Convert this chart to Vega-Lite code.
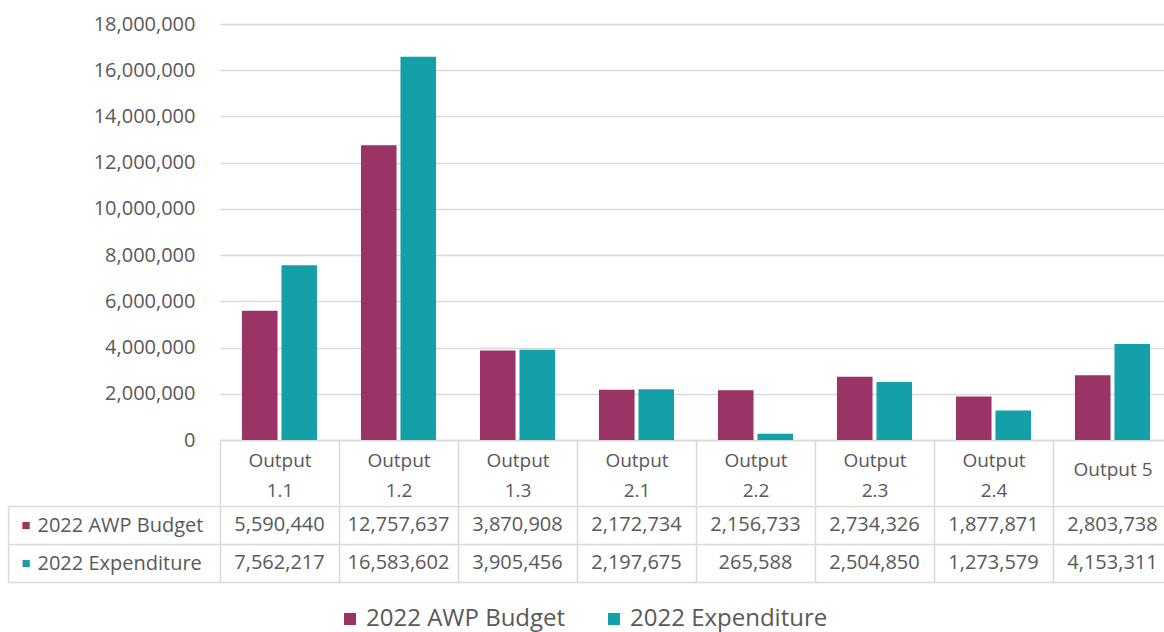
{
  "$schema": "https://vega.github.io/schema/vega-lite/v6.json",
  "background": "white",
  "padding": {"top": 14, "left": 7, "right": 0, "bottom": 4},
  "spacing": -10,
  "data": {
    "values": [
      {"output": "Output 1.1", "series": "2022 AWP Budget", "value": 5590440},
      {"output": "Output 1.1", "series": "2022 Expenditure", "value": 7562217},
      {"output": "Output 1.2", "series": "2022 AWP Budget", "value": 12757637},
      {"output": "Output 1.2", "series": "2022 Expenditure", "value": 16583602},
      {"output": "Output 1.3", "series": "2022 AWP Budget", "value": 3870908},
      {"output": "Output 1.3", "series": "2022 Expenditure", "value": 3905456},
      {"output": "Output 2.1", "series": "2022 AWP Budget", "value": 2172734},
      {"output": "Output 2.1", "series": "2022 Expenditure", "value": 2197675},
      {"output": "Output 2.2", "series": "2022 AWP Budget", "value": 2156733},
      {"output": "Output 2.2", "series": "2022 Expenditure", "value": 265588},
      {"output": "Output 2.3", "series": "2022 AWP Budget", "value": 2734326},
      {"output": "Output 2.3", "series": "2022 Expenditure", "value": 2504850},
      {"output": "Output 2.4", "series": "2022 AWP Budget", "value": 1877871},
      {"output": "Output 2.4", "series": "2022 Expenditure", "value": 1273579},
      {"output": "Output 5", "series": "2022 AWP Budget", "value": 2803738},
      {"output": "Output 5", "series": "2022 Expenditure", "value": 4153311}
    ]
  },
  "config": {
    "view": {"stroke": null},
    "font": "Open Sans",
    "axis": {
      "labelFont": "Open Sans",
      "labelColor": "#595959",
      "domainColor": "#d9d9d9",
      "gridColor": "#d9d9d9",
      "tickColor": "#d9d9d9"
    }
  },
  "vconcat": [
    {
      "width": 952,
      "height": 416,
      "mark": {"type": "bar"},
      "encoding": {
        "x": {
          "field": "output",
          "type": "nominal",
          "sort": null,
          "scale": {"paddingInner": 0, "paddingOuter": 0},
          "axis": {
            "title": null,
            "labelAngle": 0,
            "labelOverlap": false,
            "labelFontSize": 19,
            "labelBaseline": {
              "condition": {"test": "test(/\\d\\.\\d/, datum.label)", "value": "middle"},
              "value": "top"
            },
            "labelLineHeight": 30,
            "labelPadding": -45,
            "labelExpr": "test(/\\d\\.\\d/, datum.label) ? split(datum.label, ' ') : datum.label",
            "tickBand": "extent",
            "tickSize": 65,
            "tickWidth": 1.5,
            "domainWidth": 1.5
          }
        },
        "xOffset": {
          "field": "series",
          "type": "nominal",
          "sort": null,
          "scale": {"paddingInner": 0.1, "paddingOuter": 0.556}
        },
        "y": {
          "field": "value",
          "type": "quantitative",
          "scale": {"domain": [0, 18000000], "nice": false},
          "axis": {
            "title": null,
            "values": [0, 2000000, 4000000, 6000000, 8000000, 10000000, 12000000, 14000000, 16000000, 18000000],
            "format": ",d",
            "domain": false,
            "ticks": false,
            "labelPadding": 25,
            "labelFontSize": 20,
            "gridWidth": 1.5
          }
        },
        "color": {
          "field": "series",
          "type": "nominal",
          "sort": null,
          "scale": {"domain": ["2022 AWP Budget", "2022 Expenditure"], "range": ["#9a3366", "#13a0a8"]},
          "legend": {
            "orient": "none",
            "direction": "horizontal",
            "legendX": 118,
            "legendY": 583,
            "title": null,
            "symbolType": "square",
            "symbolSize": 144,
            "symbolStrokeWidth": 0,
            "labelFontSize": 24,
            "labelLimit": 0,
            "labelColor": "#595959",
            "labelOffset": 4,
            "columnPadding": 36
          }
        }
      }
    },
    {
      "width": 952,
      "height": 76,
      "layer": [
        {
          "mark": {"type": "rect", "opacity": 0},
          "encoding": {
            "x": {
              "field": "output",
              "type": "nominal",
              "sort": null,
              "scale": {"paddingInner": 0, "paddingOuter": 0},
              "axis": {
                "title": null,
                "labels": false,
                "ticks": false,
                "domain": false,
                "grid": true,
                "tickBand": "extent",
                "gridWidth": 1.5
              }
            },
            "y": {
              "field": "series",
              "type": "nominal",
              "sort": null,
              "scale": {"domain": ["2022 AWP Budget", "2022 Expenditure"], "paddingInner": 0, "paddingOuter": 0},
              "axis": {
                "title": null,
                "orient": "left",
                "grid": true,
                "gridWidth": 1.5,
                "tickBand": "extent",
                "ticks": true,
                "tickSize": 212,
                "tickWidth": 1.5,
                "domain": false,
                "labelAlign": "left",
                "labelPadding": -29,
                "labelFontSize": 20
              }
            }
          }
        },
        {
          "mark": {"type": "text", "fontSize": 20, "color": "#595959", "font": "Open Sans"},
          "encoding": {
            "x": {"field": "output", "type": "nominal", "sort": null},
            "y": {
              "field": "series",
              "type": "nominal",
              "sort": null,
              "axis": {
                "title": null,
                "orient": "left",
                "offset": 212,
                "grid": false,
                "ticks": false,
                "tickSize": 0,
                "domain": true,
                "domainWidth": 1.5,
                "labelExpr": "datum.label ? '■' : ''",
                "labelAlign": "left",
                "labelPadding": -13,
                "labelFontSize": 15,
                "labelColor": {
                  "condition": {"test": "datum.value == '2022 AWP Budget'", "value": "#9a3366"},
                  "value": "#13a0a8"
                }
              }
            },
            "text": {"field": "value", "type": "quantitative", "format": ",d"}
          }
        }
      ],
      "resolve": {"axis": {"y": "independent"}}
    }
  ]
}
